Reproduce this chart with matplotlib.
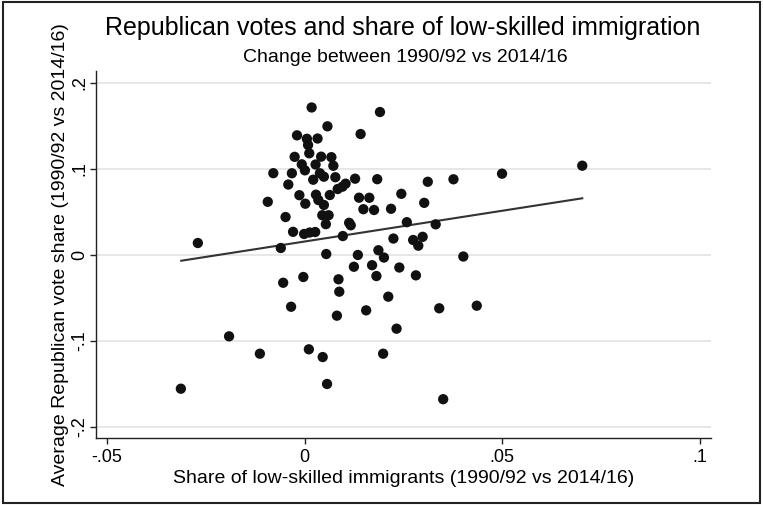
import numpy as np
import matplotlib
matplotlib.use("Agg")
import matplotlib.pyplot as plt
from matplotlib.patches import Rectangle

plt.rcParams['font.family'] = ['Liberation Sans', 'DejaVu Sans']

# Change in share of low-skilled immigrants (x) and Republican vote share (y)
immig_share = [
    0.0018, 0.0191, 0.0058, 0.0142, -0.0019, 0.0006, 0.0033, 0.0009, 0.0012, -0.0025,
    0.0042, 0.0068, -0.0007, 0.0028, 0.0073, 0.0001, -0.0079, -0.0032, 0.0039, 0.0049,
    0.0022, 0.0078, 0.0128, 0.0184, 0.0312, 0.0377, -0.0041, 0.0084, 0.0096, 0.0104,
    -0.0013, 0.0029, 0.0064, 0.0245, -0.0093, 0.0138, 0.0164, 0.0002, 0.0035, 0.0049,
    0.0303, 0.0149, 0.0176, 0.0219, -0.0048, 0.0045, 0.0061, 0.0054, 0.0113, 0.0117,
    0.0259, 0.0332, -0.0029, -0.0001, 0.0013, 0.0027, 0.0097, 0.0225, 0.0275, 0.0299,
    0.0288, -0.0270, -0.0060, 0.0055, 0.0135, 0.0187, 0.0201, 0.0125, 0.0171, 0.0240,
    0.0402, 0.0182, 0.0282, -0.0054, -0.0003, 0.0086, 0.0088, 0.0212, -0.0034, 0.0082,
    0.0156, 0.0341, 0.0233, -0.0191, -0.0113, 0.0011, 0.0046, 0.0199, -0.0313, 0.0057,
    0.0351, 0.0436, 0.0500, 0.0703,
]
rep_vote = [
    0.1712, 0.1659, 0.1493, 0.1403, 0.1388, 0.1348, 0.1351, 0.1276, 0.1179, 0.1138,
    0.1140, 0.1134, 0.1051, 0.1049, 0.1034, 0.0981, 0.0948, 0.0947, 0.0947, 0.0907,
    0.0872, 0.0901, 0.0884, 0.0878, 0.0848, 0.0877, 0.0816, 0.0764, 0.0791, 0.0826,
    0.0692, 0.0698, 0.0694, 0.0708, 0.0615, 0.0663, 0.0662, 0.0593, 0.0636, 0.0578,
    0.0603, 0.0529, 0.0520, 0.0534, 0.0438, 0.0459, 0.0459, 0.0355, 0.0371, 0.0342,
    0.0378, 0.0353, 0.0266, 0.0241, 0.0258, 0.0264, 0.0217, 0.0188, 0.0171, 0.0208,
    0.0105, 0.0136, 0.0078, 0.0008, -0.0003, 0.0052, -0.0033, -0.0140, -0.0122, -0.0149,
    -0.0021, -0.0248, -0.0240, -0.0326, -0.0259, -0.0286, -0.0430, -0.0488, -0.0605, -0.0709,
    -0.0647, -0.0623, -0.0860, -0.0949, -0.1151, -0.1100, -0.1190, -0.1151, -0.1558, -0.1503,
    -0.1680, -0.0593, 0.0942, 0.1035,
]

# fitted line as drawn in the original (end points)
fit_x = [-0.0312, 0.0703]
fit_y = [-0.0070, 0.0656]

x_ticks = [-0.05, 0, 0.05, 0.1]
x_tick_labels = ["-.05", "0", ".05", ".1"]
y_ticks = [-0.2, -0.1, 0, 0.1, 0.2]
y_tick_labels = ["-.2", "-.1", "0", ".1", ".2"]

fig = plt.figure(figsize=(7.63, 5.05), dpi=100)
ax = fig.add_axes([0.1252, 0.1327, 0.8067, 0.7267])

ax.scatter(immig_share, rep_vote, s=55, color="#111111", edgecolors="none", zorder=3)
ax.plot(fit_x, fit_y, color="#333333", lw=1.5, zorder=2)

ax.set_xlim(-0.0529, 0.1029)
ax.set_ylim(-0.2131, 0.2136)
ax.set_xticks(x_ticks)
ax.set_xticklabels(x_tick_labels)
ax.set_yticks(y_ticks)
ax.set_yticklabels(y_tick_labels, rotation=90, va="center")

ax.yaxis.grid(True, color="#e3e3e3", lw=1.2)
ax.set_axisbelow(True)
for side in ["top", "right"]:
    ax.spines[side].set_visible(False)
for side in ["left", "bottom"]:
    ax.spines[side].set_color("#222222")
    ax.spines[side].set_linewidth(1.0)
ax.tick_params(direction="out", width=1, color="#222222", labelsize=13)
ax.tick_params(axis="x", length=4, pad=4)
ax.tick_params(axis="y", length=4.5, pad=0.5)

ax.set_xlabel("Share of low-skilled immigrants (1990/92 vs 2014/16)", fontsize=14, va="center")
ax.xaxis.set_label_coords(0.5, -0.11)
ax.set_ylabel("Average Republican vote share (1990/92 vs 2014/16)", fontsize=14, va="center")
ax.yaxis.set_label_coords(-0.0577, 0.5)

fig.text(0.528, 0.945, "Republican votes and share of low-skilled immigration",
         ha="center", va="center", fontsize=18)
fig.text(0.531, 0.886, "Change between 1990/92 vs 2014/16",
         ha="center", va="center", fontsize=14)

# рамка вокруг всей картинки
fig.patches.append(Rectangle((0.004, 0.004), 0.992, 0.992, transform=fig.transFigure,
                             fill=False, edgecolor="#222222", lw=1.5))

fig.savefig("out.png", dpi=100)
